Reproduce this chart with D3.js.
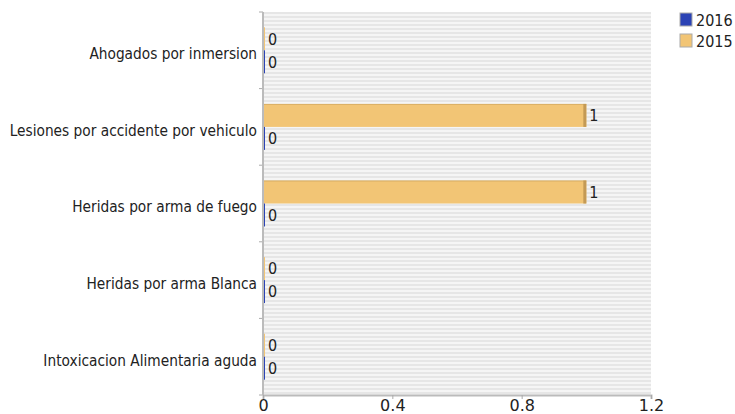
<!DOCTYPE html>
<html>
<head>
<meta charset="utf-8">
<script src="https://cdn.jsdelivr.net/npm/d3@7"></script>
<style>
  body { margin: 0; background: #fff; }
  text { font-family: "DejaVu Sans", sans-serif; fill: #222; }
</style>
</head>
<body>
<svg id="chart" width="735" height="414"></svg>
<script>
// data
const categories = ["Ahogados por inmersion", "Lesiones por accidente por vehiculo",
                    "Heridas por arma de fuego", "Heridas por arma Blanca",
                    "Intoxicacion Alimentaria aguda"];
const series = ["2015", "2016"];
const values2015 = [0, 1, 1, 0, 0];
const values2016 = [0, 0, 0, 0, 0];
const xTicks = [0, 0.4, 0.8, 1.2];
const legendOrder = ["2016", "2015"];

const colors = { "2015": "#f2c575", "2016": "#2b43b5" };
const edges = { "2015": "#c49a55", "2016": "#1c2f85" };
const fontSize = 16;
const squeeze = 0.9;      // text in the picture is a bit narrow
const labelSqueeze = 0.86;

const svg = d3.select("#chart");
const margin = { top: 12, right: 84, bottom: 19, left: 263 };
const width = 735 - margin.left - margin.right;
const height = 414 - margin.top - margin.bottom;

const x = d3.scaleLinear().domain([0, 1.2]).range([0, width]);
const y = d3.scaleBand().domain(categories).range([0, height]).paddingInner(0.4).paddingOuter(0.2);
const ySub = d3.scaleBand().domain(series).range([0, y.bandwidth()]);

// striped background pattern
const defs = svg.append("defs");
const pat = defs.append("pattern")
    .attr("id", "stripes")
    .attr("patternUnits", "userSpaceOnUse")
    .attr("width", 4).attr("height", 4);
pat.append("rect").attr("width", 4).attr("height", 4).attr("fill", "#f5f5f5");
pat.append("rect").attr("width", 4).attr("height", 2).attr("fill", "#e6e6e6");

const g = svg.append("g").attr("transform", `translate(${margin.left},${margin.top})`);

g.append("rect")
    .attr("width", width).attr("height", height)
    .attr("fill", "url(#stripes)");

const rows = categories.map((c, i) => ({ cat: c, "2015": values2015[i], "2016": values2016[i] }));

const groups = g.selectAll("g.row")
    .data(rows)
    .enter().append("g")
    .attr("class", "row")
    .attr("transform", d => `translate(0,${y(d.cat)})`);

const minW = 2;
groups.selectAll("g.bar")
    .data(d => series.map(s => ({ s: s, v: d[s] })))
    .enter().append("g")
    .attr("class", "bar")
    .each(function(d) {
        const b = d3.select(this);
        const w = Math.max(x(d.v), minW);
        b.append("rect")
            .attr("x", 0)
            .attr("y", ySub(d.s))
            .attr("width", w)
            .attr("height", ySub.bandwidth())
            .attr("fill", colors[d.s]);
        if (d.v > 0) {
            b.append("rect")
                .attr("x", w - 3)
                .attr("y", ySub(d.s))
                .attr("width", 3)
                .attr("height", ySub.bandwidth())
                .attr("fill", edges[d.s]);
            b.append("rect")
                .attr("x", 0)
                .attr("y", ySub(d.s))
                .attr("width", w)
                .attr("height", 1)
                .attr("fill", edges[d.s])
                .attr("opacity", 0.5);
        }
        b.append("text")
            .attr("transform", `translate(${w + 3},${ySub(d.s) + ySub.bandwidth() / 2}) scale(${squeeze},1)`)
            .attr("dy", "0.36em")
            .attr("font-size", fontSize)
            .text(d.v);
    });

// y axis
const yAxis = g.append("g")
    .call(d3.axisLeft(y).tickSize(0).tickPadding(0));
yAxis.select(".domain").remove();
yAxis.selectAll("text")
    .attr("x", null)
    .attr("transform", `translate(-6,0) scale(${labelSqueeze},1)`)
    .attr("dy", "0.55em")
    .attr("font-size", fontSize)
    .attr("fill", "#222");

// boundary ticks between categories
const bounds = d3.range(categories.length + 1).map(i => i * height / categories.length);
g.selectAll("line.ybound")
    .data(bounds)
    .enter().append("line")
    .attr("x1", -4).attr("x2", 0)
    .attr("y1", d => d).attr("y2", d => d)
    .attr("stroke", "#aaa");
g.append("line")
    .attr("x1", 0).attr("x2", 0).attr("y1", 0).attr("y2", height)
    .attr("stroke", "#bbb").attr("stroke-width", 2);

// x axis
const xAxis = g.append("g")
    .attr("transform", `translate(0,${height})`)
    .call(d3.axisBottom(x).tickValues(xTicks).tickSize(4).tickPadding(1).tickFormat(d3.format("")));
xAxis.select(".domain").attr("stroke", "#bbb").attr("stroke-width", 2);
xAxis.selectAll(".tick line").attr("stroke", "#aaa");
xAxis.selectAll("text").attr("font-size", fontSize).attr("fill", "#222");

// legend
const legend = svg.append("g").attr("transform", "translate(680,13)");
const li = legend.selectAll("g")
    .data(legendOrder)
    .enter().append("g")
    .attr("transform", (d, i) => `translate(0,${i * 21})`);
li.append("rect")
    .attr("width", 12).attr("height", 13)
    .attr("fill", d => colors[d])
    .attr("stroke", "#aaa");
li.append("text")
    .attr("transform", `translate(16,7) scale(${squeeze},1)`)
    .attr("dy", "0.36em")
    .attr("font-size", fontSize)
    .text(d => d);
</script>
</body>
</html>
